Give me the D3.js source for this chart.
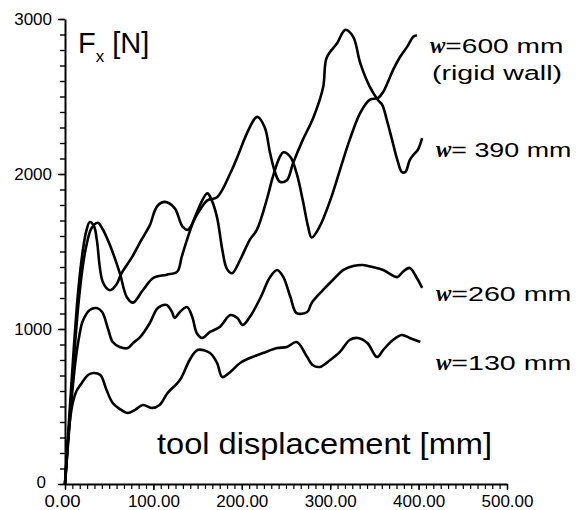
<!DOCTYPE html>
<html>
<head>
<meta charset="utf-8">
<script src="https://cdn.jsdelivr.net/npm/d3@7"></script>
<style>
  html, body { margin: 0; padding: 0; background: #fff; }
  svg { display: block; }
  text { font-family: "Liberation Sans", Arial, Helvetica, sans-serif; fill: #000; }
</style>
</head>
<body>
<svg id="chart" width="581" height="510"></svg>
<script>
// Cutting force F_x against tool displacement for four wall widths w
const w600Disp  = [0,5,10,15,20,25,30,37,42,48,53,62,70,77,88,100,115,127,132,138,149,161,166,172,178,183,189,198,209,217,229,235,243,247,255,262,269,275,279,288,300,311,322,334,345,354,360,365,371,379,387,394,398];
const w600Force = [0,400,800,1150,1400,1560,1650,1685,1650,1580,1510,1360,1205,1170,1250,1330,1350,1370,1465,1575,1750,1875,1830,1720,1510,1390,1360,1445,1575,1640,1850,1980,2110,2140,2110,2005,1830,1660,1590,1660,1830,2025,2220,2395,2480,2490,2530,2590,2670,2755,2820,2885,2895];

const w390Disp  = [0,5,10,15,20,24,28,33,36,43,51,58,64,76,85,88,96,104,113,124,133,139,149,161,172,187,195,206,215,218,226,232,238,243,251,258,269,281,292,296,308,317,326,334,345,354,359,364,370,376,381,385,390,394,399,404];
const w390Force = [0,450,880,1250,1500,1630,1690,1660,1575,1300,1250,1285,1360,1465,1560,1590,1670,1790,1820,1780,1660,1640,1735,1830,1850,2005,2110,2265,2360,2368,2300,2135,2005,1950,1960,2070,2220,2365,2560,2750,2845,2930,2885,2715,2560,2477,2445,2350,2220,2090,2013,2013,2090,2123,2155,2232];

const w260Disp  = [0,4,8,12,16,20,28,36,42,49,54,62,71,77,85,96,105,115,121,124,130,138,144,149,155,164,175,187,195,201,209,221,232,240,247,255,262,274,279,292,303,315,326,337,348,360,376,382,390,398,404];
const w260Force = [0,300,580,800,950,1050,1123,1135,1110,995,916,884,877,910,948,1039,1135,1155,1110,1071,1110,1142,1077,974,942,981,1013,1090,1071,1026,1077,1200,1335,1381,1335,1206,1103,1110,1168,1252,1316,1381,1406,1413,1400,1381,1335,1368,1394,1329,1265];

const w130Disp  = [0,3,6,9,13,19,26,32,40,47,54,64,71,79,88,98,107,116,130,141,150,164,172,178,187,198,209,224,240,251,262,274,280,288,300,311,322,331,342,353,360,371,381,390,402];
const w130Force = [0,260,430,530,600,652,703,716,703,606,523,477,458,477,510,490,510,587,671,800,865,845,781,690,723,781,813,845,877,884,916,819,768,755,800,852,929,942,910,819,865,929,961,942,916];

const yMajorTicks = [0,1000,2000,3000];
const xMajorTicks = [0,100,200,300,400,500];

const seriesLabels = [
  { name: "=600 mm", sub: "(rigid wall)", x: 430, y: 53, len: 118 },
  { name: "= 390 mm", sub: null, x: 436, y: 157, len: 120 },
  { name: "=260 mm", sub: null, x: 436, y: 301, len: 120 },
  { name: "=130 mm", sub: null, x: 436, y: 370, len: 120 }
];

const svg = d3.select("#chart");

const x = d3.scaleLinear().domain([0, 500]).range([65, 507]);
const y = d3.scaleLinear().domain([0, 3000]).range([484, 19]);

// y axis: minor ticks every 100 N, labelled ticks every 1000 N
svg.append("g")
  .attr("transform", `translate(${x(0)},0)`)
  .call(d3.axisLeft(y).tickValues(d3.range(0, 3001, 100)).tickSize(5).tickSizeOuter(0).tickFormat(""))
  .call(g => g.selectAll("line").attr("stroke", "#000").attr("stroke-width", 1.4))
  .call(g => g.select(".domain").attr("stroke", "#000").attr("stroke-width", 2));

svg.append("g")
  .attr("transform", `translate(${x(0)},0)`)
  .call(d3.axisLeft(y).tickValues(yMajorTicks).tickSize(7).tickSizeOuter(0).tickPadding(6).tickFormat(d3.format("d")))
  .call(g => g.select(".domain").remove())
  .call(g => g.selectAll("line").attr("stroke", "#000").attr("stroke-width", 1.4))
  .call(g => g.selectAll("text").attr("font-size", 17).attr("fill", "#000")
    .style("font-family", "'Liberation Sans', Arial, sans-serif")
    .attr("dy", d => d === 0 ? "0.2em" : "0.32em")
    .attr("dx", d => d === 0 ? -6 : 0));

// x axis: fine ticks, labels every 100 mm
svg.append("g")
  .attr("transform", `translate(0,${y(0)})`)
  .call(d3.axisBottom(x).tickValues(d3.range(0, 61).map(i => i * 500 / 60)).tickSize(5).tickSizeOuter(0).tickFormat(""))
  .call(g => g.selectAll("line").attr("stroke", "#000").attr("stroke-width", 1.2))
  .call(g => g.select(".domain").attr("stroke", "#000").attr("stroke-width", 2));

svg.append("g")
  .attr("transform", `translate(0,${y(0)})`)
  .call(d3.axisBottom(x).tickValues(xMajorTicks).tickSize(6).tickSizeOuter(0).tickPadding(6).tickFormat(d3.format(".2f")))
  .call(g => g.select(".domain").remove())
  .call(g => g.selectAll("line").attr("stroke", "#000").attr("stroke-width", 1.4))
  .call(g => g.selectAll("text").attr("font-size", 16).attr("fill", "#000")
    .style("font-family", "'Liberation Sans', Arial, sans-serif")
    .attr("textLength", d => d === 0 ? 36 : 52).attr("lengthAdjust", "spacingAndGlyphs")
    .attr("dx", d => d === 0 ? -3 : 0));

// force curves
const line = d3.line()
  .x(d => x(d[0]))
  .y(d => y(d[1]))
  .curve(d3.curveCatmullRom.alpha(0.5));

const curves = [
  d3.zip(w600Disp, w600Force),
  d3.zip(w390Disp, w390Force),
  d3.zip(w260Disp, w260Force),
  d3.zip(w130Disp, w130Force)
];

svg.append("g")
  .selectAll("path")
  .data(curves)
  .join("path")
  .attr("d", line)
  .attr("fill", "none")
  .attr("stroke", "#000")
  .attr("stroke-width", 2.6)
  .attr("stroke-linejoin", "round");

// axis titles
const fx = svg.append("text").attr("x", 78).attr("y", 53).attr("font-size", 29);
fx.append("tspan").text("F");
fx.append("tspan").attr("font-size", 17).attr("dy", 9).text("x");
fx.append("tspan").attr("dy", -9).text(" [N]");

svg.append("text")
  .attr("x", 157).attr("y", 454)
  .attr("font-size", 30)
  .attr("textLength", 335)
  .attr("lengthAdjust", "spacingAndGlyphs")
  .text("tool displacement [mm]");

// curve labels
const lbl = svg.append("g");
seriesLabels.forEach(s => {
  const t = lbl.append("text").attr("x", s.x).attr("y", s.y).attr("font-size", 20);
  t.append("tspan")
    .style("font-family", "'Liberation Serif', 'Times New Roman', serif")
    .attr("font-style", "italic").attr("font-weight", "bold").attr("font-size", 23)
    .text("w");
  t.append("tspan").attr("textLength", s.len).attr("lengthAdjust", "spacingAndGlyphs").text(s.name);
  if (s.sub) {
    lbl.append("text").attr("x", s.x + 2).attr("y", s.y + 27).attr("font-size", 20)
      .attr("textLength", 130).attr("lengthAdjust", "spacingAndGlyphs").text(s.sub);
  }
});
</script>
</body>
</html>
